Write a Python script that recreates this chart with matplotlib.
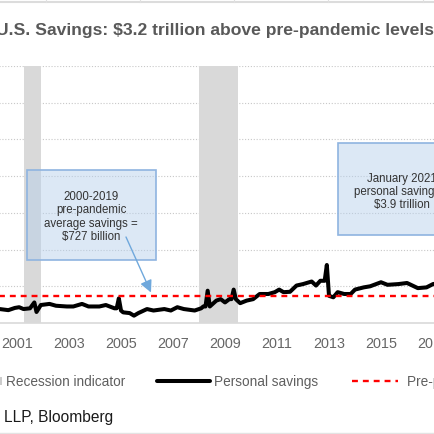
import matplotlib
matplotlib.use('Agg')
import matplotlib.pyplot as plt
from matplotlib.lines import Line2D
from matplotlib.patches import Rectangle, FancyArrowPatch

plt.rcParams['font.family'] = ['Liberation Sans', 'DejaVu Sans']

# ---------------- data (billions of US$) ----------------
months = ['2000-01', '2000-05', '2000-09', '2000-12', '2001-02', '2001-04', '2001-07',
          '2001-09', '2001-10', '2001-12', '2002-04', '2002-07', '2002-12', '2003-03',
          '2003-07', '2003-10', '2004-03', '2004-06', '2004-10', '2004-11', '2004-12',
          '2005-01', '2005-02', '2005-05', '2005-07', '2005-09', '2006-01', '2006-04',
          '2006-09', '2006-12', '2007-03', '2007-06', '2007-11', '2008-02', '2008-03',
          '2008-04', '2008-05', '2008-06', '2008-09', '2008-11', '2009-01', '2009-03',
          '2009-04', '2009-05', '2009-06', '2009-08', '2009-11', '2010-02', '2010-05',
          '2010-09', '2010-12', '2011-02', '2011-04', '2011-07', '2011-10', '2012-01',
          '2012-05', '2012-07', '2012-09', '2012-11', '2012-12', '2013-01', '2013-03',
          '2013-05', '2013-08', '2013-11', '2014-01', '2014-05', '2014-08', '2015-01',
          '2015-04', '2015-09', '2016-01', '2016-06', '2016-10', '2017-01', '2017-03']
savings = [380, 380, 350, 410, 430, 380, 400,
           560, 300, 490, 520, 470, 450, 450,
           520, 450, 450, 490, 400, 400, 670,
           340, 290, 270, 200, 270, 380, 340,
           380, 340, 430, 380, 340, 400, 450,
           450, 880, 450, 610, 650, 560, 650,
           650, 910, 650, 540, 610, 650, 790,
           790, 840, 910, 840, 850, 1020, 1060,
           1130, 1020, 1150, 1150, 1580, 740, 700,
           840, 790, 790, 910, 970, 1000, 1110,
           1040, 1060, 1090, 950, 970, 1060, 1080]
pre_pandemic_avg = 727
recession_start = ['2001-04', '2008-01']
recession_end = ['2001-12', '2009-07']
tick_years = [2001, 2003, 2005, 2007, 2009, 2011, 2013, 2015, 2017, 2019, 2021]
tick_labels = [str(y) for y in tick_years]

title = 'U.S. Savings: $3.2 trillion above pre-pandemic levels'
note1 = ['2000-2019', 'pre-pandemic', 'average savings =', '$727 billion']
note2 = ['January 2021', 'personal savings =', '$3.9 trillion']


def dec(m):
    y, mo = m.split('-')
    return int(y) + (int(mo) - 1) / 12.0


t = [dec(m) for m in months]

# ---------------- figure ----------------
W = H = 435
DPI = 100
fig = plt.figure(figsize=(W / DPI, H / DPI), dpi=DPI)


def fx(x):
    return x / W


def fy(y):
    return 1 - y / H


X_LO, X_HI = 2000.0, 2021.25
px_lo = 17 + 26 * (X_LO - 2001)
px_hi = 17 + 26 * (X_HI - 2001)
Y0, Y7 = 324, 67
ax = fig.add_axes([fx(px_lo), fy(Y0), (px_hi - px_lo) / W, (Y0 - Y7) / H])
ax.set_xlim(X_LO, X_HI)
ax.set_ylim(0, 7000)

for s in ['top', 'left', 'right']:
    ax.spines[s].set_visible(False)
ax.spines['bottom'].set_color('#d9d9d9')
ax.spines['bottom'].set_linewidth(1.2)

ax.set_yticks(range(1000, 7001, 1000))
ax.tick_params(axis='y', length=0, labelleft=False)
ax.yaxis.grid(True, color='#c8c8c8', linestyle=(0, (1, 1.6)), linewidth=0.8)
ax.set_axisbelow(True)

ax.set_xticks(tick_years)
ax.set_xticklabels(tick_labels)
ax.tick_params(axis='x', length=0, pad=9, labelsize=10.4, labelcolor='#666666')

for a, b in zip(recession_start, recession_end):
    ax.axvspan(dec(a), dec(b), color='#d9d9d9', lw=0, zorder=1)

ax.plot(t, savings, color='black', lw=2.9, solid_joinstyle='round',
        solid_capstyle='round', zorder=3)
ax.axhline(pre_pandemic_avg, color='#ff0000', lw=1.7, dashes=(2.5, 2.1), zorder=4)

# ---------------- title ----------------
fig.text(fx(215), fy(35), title, ha='center', va='baseline', fontsize=12.6,
         fontweight='bold', color='#595959')

# ---------------- annotation boxes ----------------
box_fc = (0.71, 0.81, 0.92, 0.47)
box_ec = '#8fb4e0'
fig.add_artist(Rectangle((fx(26.7), fy(261)), (155.7 - 26.7) / W, (261 - 171) / H,
                         transform=fig.transFigure, facecolor=box_fc,
                         edgecolor=box_ec, lw=1.2, zorder=5))
for i, line in enumerate(note1):
    fig.text(fx(91), fy(200 + 13.3 * i), line, ha='center', va='baseline',
             fontsize=8.3, color='#333333', zorder=6)

fig.add_artist(Rectangle((fx(338), fy(236)), (466 - 338) / W, (236 - 144) / H,
                         transform=fig.transFigure, facecolor=box_fc,
                         edgecolor=box_ec, lw=1.2, zorder=5))
for i, line in enumerate(note2):
    fig.text(fx(402), fy(181.7 + 13.3 * i), line, ha='center', va='baseline',
             fontsize=8.3, color='#333333', zorder=6)

fig.add_artist(FancyArrowPatch((fx(126), fy(238)), (fx(151), fy(293.5)),
                               transform=fig.transFigure,
                               arrowstyle='-|>,head_length=0.6,head_width=0.3',
                               mutation_scale=12, color='#6fa8dc', lw=1,
                               shrinkA=0, shrinkB=0, zorder=6))

# ---------------- legend ----------------
leg_y = 382
fig.add_artist(Rectangle((fx(-6), fy(386)), 8 / W, 8 / H, transform=fig.transFigure,
                         facecolor='#cccccc', edgecolor='none'))
fig.text(fx(6), fy(386), 'Recession indicator', ha='left', va='baseline',
         fontsize=9.8, color='#5f5f5f')
fig.add_artist(Line2D([fx(157), fx(210)], [fy(leg_y), fy(leg_y)],
                      transform=fig.transFigure, color='black', lw=2.9,
                      solid_capstyle='round'))
fig.text(fx(214), fy(386), 'Personal savings', ha='left', va='baseline',
         fontsize=9.8, color='#5f5f5f')
fig.add_artist(Line2D([fx(352), fx(398)], [fy(leg_y), fy(leg_y)],
                      transform=fig.transFigure, color='#ff0000', lw=1.7,
                      dashes=(2.5, 2.1)))
fig.text(fx(407), fy(386), 'Pre-pandemic average', ha='left', va='baseline',
         fontsize=9.8, color='#5f5f5f')

# ---------------- source ----------------
fig.text(fx(4), fy(422.5), 'LLP, Bloomberg', ha='left', va='baseline',
         fontsize=11.2, color='#1a1a1a')

# ---------------- frame decorations ----------------
fig.add_artist(Line2D([0, 1], [fy(3), fy(3)], transform=fig.transFigure,
                      color='#dcdcdc', lw=1.5))
for xv in [46, 140, 234, 328, 423]:
    fig.add_artist(Line2D([fx(xv), fx(xv)], [fy(0), fy(3)], transform=fig.transFigure,
                          color='#e0e0e0', lw=0.8))
fig.add_artist(Line2D([0, 1], [fy(434.3), fy(434.3)], transform=fig.transFigure,
                      color='#e3e3e3', lw=1))

fig.savefig('out.png', dpi=DPI)
